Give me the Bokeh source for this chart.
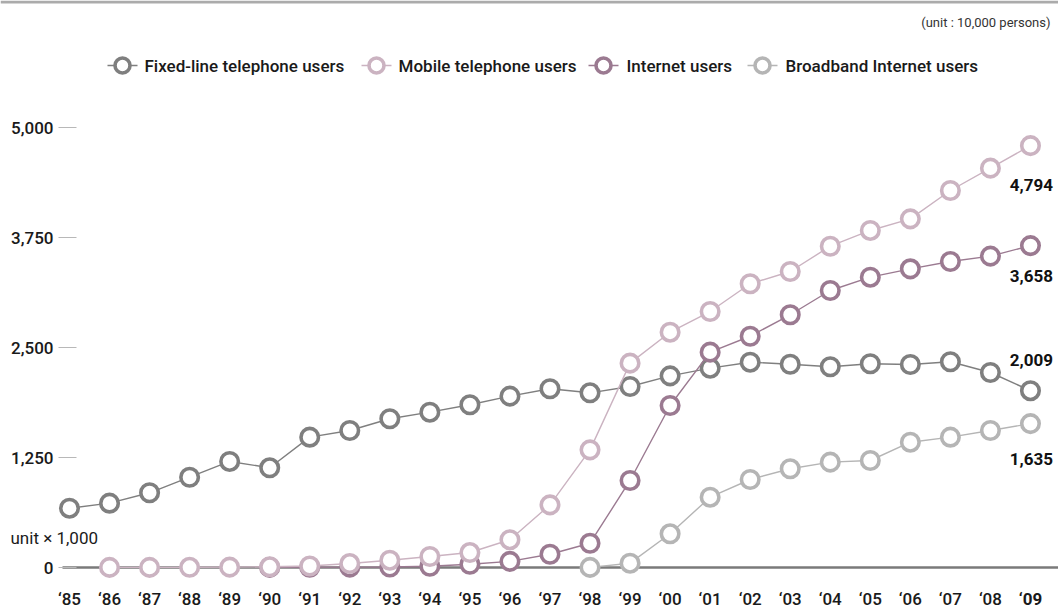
from bokeh.plotting import figure
from bokeh.models import Label, BoxAnnotation, ColumnDataSource
from bokeh.core.properties import value
from bokeh.embed import file_html
from bokeh.resources import INLINE

# ---- data (unit: 10,000 persons) -------------------------------------------
year_labels = ["‘85", "‘86", "‘87", "‘88", "‘89", "‘90", "‘91", "‘92", "‘93",
               "‘94", "‘95", "‘96", "‘97", "‘98", "‘99", "‘00", "‘01", "‘02",
               "‘03", "‘04", "‘05", "‘06", "‘07", "‘08", "‘09"]

fixed_line_users = [674, 731, 849, 1026, 1205, 1133, 1481, 1557, 1690, 1765,
                    1849, 1947, 2031, 1985, 2057, 2178, 2265, 2333, 2310, 2281,
                    2315, 2307, 2338, 2216, 2009]

mobile_users = [None, 1, 1, 2, 4, 8, 17, 45, 83, 125,
                170, 316, 712, 1337, 2322, 2674, 2909, 3224, 3364, 3651,
                3830, 3962, 4284, 4538, 4794]

internet_users = [None, None, None, None, None, 1, 2, 4, 6, 14,
                  37, 70, 151, 276, 989, 1841, 2447, 2628, 2872, 3148,
                  3299, 3394, 3477, 3538, 3658]

broadband_users = [None, None, None, None, None, None, None, None, None, None,
                   None, None, None, 1, 49, 383, 799, 1000, 1122, 1197,
                   1216, 1424, 1481, 1557, 1635]

y_ticks = [0, 1250, 2500, 3750, 5000]

FONT = "Roboto Medium, Roboto"
FONT_LIGHT = "Roboto"
TEXT = "#1a1a1a"

# ---- canvas geometry (the plot frame fills the whole canvas) ---------------
W, H = 1058, 608
X0_PX, X_STEP = 69, 40.04          # pixel of first year, pixels per year
Y0_PX, Y_SCALE = 567, 0.088         # pixel of zero, pixels per unit

X_START = -X0_PX / X_STEP
X_END = X_START + W / X_STEP
Y_END = Y0_PX / Y_SCALE
Y_START = Y_END - H / Y_SCALE


def px_x(px):
    return (px - X0_PX) / X_STEP


def px_y(py):
    return (Y0_PX - py) / Y_SCALE


p = figure(width=W, height=H, x_range=(X_START, X_END), y_range=(Y_START, Y_END),
           output_backend="svg", toolbar_location=None,
           min_border=0, min_border_left=0, min_border_right=0,
           min_border_top=0, min_border_bottom=0)
p.outline_line_color = None
p.grid.visible = False
p.background_fill_color = "white"
p.border_fill_color = "white"

# ---- axes, pinned inside the frame ----------------------------------------
p.yaxis.fixed_location = px_x(62)
p.yaxis.ticker = y_ticks
p.yaxis.major_label_overrides = {t: f"{t:,}" for t in y_ticks}
p.yaxis.axis_line_color = None
p.yaxis.major_tick_in = 14
p.yaxis.major_tick_out = 4
p.yaxis.major_tick_line_color = "#b8b8b8"
p.yaxis.minor_tick_line_color = None
p.yaxis.major_label_standoff = 5
p.yaxis.major_label_text_font = FONT
p.yaxis.major_label_text_font_size = "17px"
p.yaxis.major_label_text_color = TEXT

p.xaxis.fixed_location = px_y(588)
p.xaxis.ticker = list(range(len(year_labels)))
p.xaxis.major_label_overrides = {i: (t if i < len(year_labels) - 1 else "")
                                 for i, t in enumerate(year_labels)}
p.xaxis.axis_line_color = None
p.xaxis.major_tick_in = 0
p.xaxis.major_tick_out = 0
p.xaxis.major_tick_line_color = None
p.xaxis.minor_tick_line_color = None
p.xaxis.major_label_standoff = 0
p.xaxis.major_label_text_font = FONT
p.xaxis.major_label_text_font_size = "17px"
p.xaxis.major_label_text_color = TEXT

# latest year in bold
p.add_layout(Label(x=len(year_labels) - 1, y=H - 588, y_units="screen",
                   text=year_labels[-1], text_align="center", text_baseline="top",
                   text_font=FONT_LIGHT, text_font_size="17px",
                   text_font_style="bold", text_color=TEXT))

# top rule
p.add_layout(BoxAnnotation(top=H, bottom=H - 3, top_units="screen",
                           bottom_units="screen", fill_color="#ababab",
                           fill_alpha=1, line_color=None))

# zero baseline, starting at the value axis
p.segment(x0=[px_x(62)], y0=[0], x1=[X_END], y1=[0], line_color="#7a7a7a",
          line_width=2.5)

# ---- series ----------------------------------------------------------------
series = [
    ("Fixed-line telephone users", fixed_line_users, "#7f7f7f"),
    ("Mobile telephone users", mobile_users, "#cbb3c1"),
    ("Internet users", internet_users, "#9b7a91"),
    ("Broadband Internet users", broadband_users, "#b5b5b5"),
]
draw_order = [0, 3, 2, 1]

for k in draw_order:
    name, vals, color = series[k]
    xs = [i for i, v in enumerate(vals) if v is not None]
    ys = [v for v in vals if v is not None]
    src = ColumnDataSource(dict(x=xs, y=ys))
    p.line("x", "y", source=src, line_color=color, line_width=1.4)
    p.scatter("x", "y", source=src, size=17.5, line_color=color, line_width=3.6,
              fill_color="white")

# ---- end-of-series value labels -------------------------------------------
end_offsets = [-31, 39, 30, 35]
last = len(year_labels) - 1
end_src = ColumnDataSource(dict(
    x=[last] * len(series),
    y=[s[1][-1] for s in series],
    text=[f"{s[1][-1]:,}" for s in series],
    dy=end_offsets,
))
p.text("x", "y", text="text", source=end_src, y_offset="dy", x_offset=1,
       text_align="center", text_baseline="middle", text_font=value(FONT_LIGHT),
       text_font_size="17px", text_font_style="bold", text_color="#111111")

# ---- legend ----------------------------------------------------------------
legend_glyph_px = [122, 376, 603, 762]
legend_text_px = [144, 398, 626, 785]
LEGEND_Y = 65
for (name, _, color), gx, tx in zip(series, legend_glyph_px, legend_text_px):
    p.segment(x0=[px_x(gx - 15)], y0=[px_y(LEGEND_Y)], x1=[px_x(gx + 15)],
              y1=[px_y(LEGEND_Y)], line_color=color, line_width=1.4)
    p.scatter(x=[px_x(gx)], y=[px_y(LEGEND_Y)], size=15, line_color=color,
              line_width=3.6, fill_color="white")
    p.add_layout(Label(x=tx, y=H - LEGEND_Y, x_units="screen", y_units="screen",
                       text=name, text_baseline="middle", text_font=FONT,
                       text_font_size="17px", text_color=TEXT))

# ---- notes -----------------------------------------------------------------
p.add_layout(Label(x=1050, y=H - 22, x_units="screen", y_units="screen",
                   text="(unit : 10,000 persons)", text_align="right",
                   text_baseline="middle", text_font=FONT_LIGHT,
                   text_font_size="13px", text_color="#333333"))
p.add_layout(Label(x=10, y=H - 537, x_units="screen", y_units="screen",
                   text="unit × 1,000", text_baseline="middle", text_font=FONT_LIGHT,
                   text_font_size="17px", text_color=TEXT))

open("out.html", "w").write(file_html(p, INLINE))
